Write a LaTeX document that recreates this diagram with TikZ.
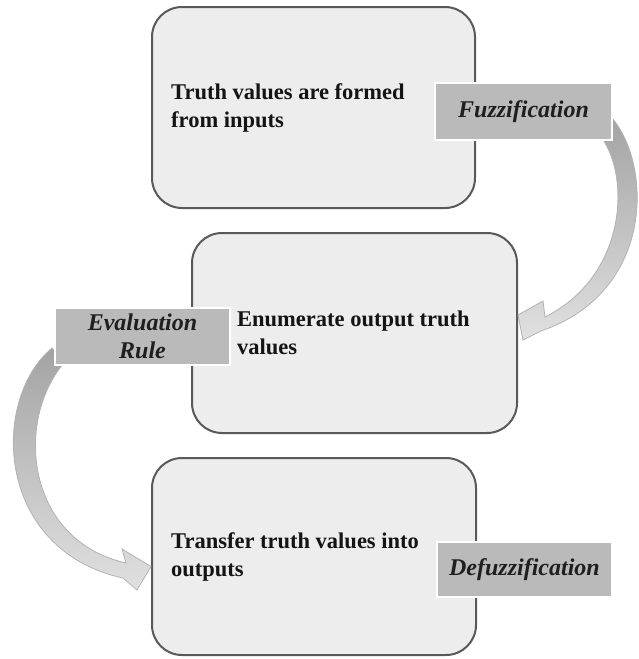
\documentclass[tikz,border=0pt]{standalone}
\usepackage{fontspec}
\setmainfont{Liberation Serif}
\begin{document}
\begin{tikzpicture}[x=1pt, y=-1pt,
    stage/.style={rectangle, rounded corners=30pt, draw=black!65, line width=2pt, fill=black!7},
    stagetext/.style={align=left, inner sep=0pt, text=black!92, font=\fontsize{22.5}{28}\selectfont\bfseries},
    tag/.style={rectangle, draw=white, line width=2.5pt, fill=black!27, text=black!88, align=center, inner sep=0pt, font=\fontsize{24}{28}\selectfont\bfseries\itshape},
    bendarrow/.style={draw=black!30, line width=0.8pt, top color=black!36, bottom color=black!12}]
            \useasboundingbox (0,0) rectangle (638,659);
            \node [stage, minimum width=323pt, minimum height=201pt] (formed) at (313.5,107.5) {};
            \node [stage, minimum width=325pt, minimum height=200pt] (enumerate) at (354.5,333) {};
            \node [stage, minimum width=324pt, minimum height=197pt] (transfer) at (314,556.5) {};
            \node [stagetext, anchor=west] (formedtext) at ([xshift=20pt]formed.west) {Truth values are formed\\from inputs};
            \node [stagetext, anchor=west] (enumeratetext) at ([xshift=46pt]enumerate.west) {Enumerate output truth\\values};
            \node [stagetext, anchor=west] (transfertext) at ([xshift=20pt]transfer.west) {Transfer truth values into\\outputs};
            % curved block arrows
            \path [bendarrow] (612,118) .. controls (652,165) and (655,292) .. (541,331)
                -- (523,340) -- ([yshift=18pt]enumerate.east) -- (543,301) -- (545,317)
                .. controls (628,275) and (630,175) .. (601,137) -- cycle;
            \path [bendarrow] (52,348) .. controls (-10,400) and (-5,550) .. (123,578)
                -- (137,590) -- ([yshift=-10pt]transfer.west) -- (122,549) -- (126,563)
                .. controls (25,540) and (15,420) .. (64,363) -- cycle;
            \node [tag, minimum width=177pt, minimum height=57pt] (fuzz) at (523.5,111.5) {Fuzzification};
            \node [tag, minimum width=175pt, minimum height=57pt] (evalrule) at (142.5,336.5) {Evaluation\\Rule};
            \node [tag, minimum width=175pt, minimum height=55pt] (defuzz) at (524.5,569.5) {Defuzzification};
        \end{tikzpicture}
\end{document}
